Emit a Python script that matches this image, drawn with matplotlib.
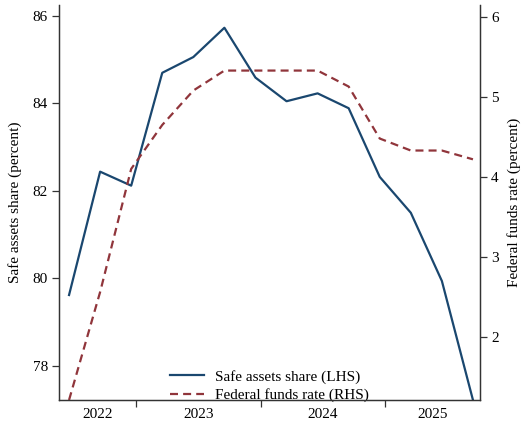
import matplotlib
matplotlib.use("Agg")
import matplotlib.pyplot as plt
import numpy as np

plt.rcParams['font.family'] = ['Liberation Serif', 'DejaVu Serif']

# Quarter-end months (June 2022 .. Sept 2025)
dates = ["2022-06", "2022-09", "2022-12", "2023-03", "2023-06", "2023-09", "2023-12",
         "2024-03", "2024-06", "2024-09", "2024-12", "2025-03", "2025-06", "2025-09"]
safe_share = [79.62, 82.44, 82.12, 84.70, 85.06, 85.73, 84.59,
              84.05, 84.23, 83.89, 82.32, 81.50, 79.94, 77.22]
fed_funds = [1.21, 2.56, 4.10, 4.65, 5.08, 5.33, 5.33,
             5.33, 5.33, 5.13, 4.48, 4.33, 4.33, 4.22]
year_labels = ["2022", "2023", "2024", "2025"]

# months since Jan 2022, mid-month
x = np.array([(int(d[:4]) - 2022) * 12 + int(d[5:]) - 0.5 for d in dates])

blue = "#1a476f"
red = "#90353b"

fig = plt.figure(figsize=(5.25, 4.26), dpi=100)
ax = fig.add_axes([59/525, 1 - 400/426, (480-59)/525, (400-5)/426])
ax2 = ax.twinx()

l1, = ax.plot(x, safe_share, color=blue, lw=1.6, label="Safe assets share (LHS)")
l2, = ax2.plot(x, fed_funds, color=red, lw=1.6, ls=(0, (3.6, 2.3)), label="Federal funds rate (RHS)")

xmin, xmax = 4.53, 45.18
ax.set_xlim(xmin, xmax)
ax.set_ylim(77.22, 86.25)
ax2.set_ylim(1.21, 6.15)

ax.set_yticks([78, 80, 82, 84, 86])
ax2.set_yticks([2, 3, 4, 5, 6])

# year boundaries as major ticks, labels centered in visible part of each year
ax.set_xticks([12, 24, 36])
ax.set_xticklabels([])
bounds = [xmin, 12, 24, 36, xmax]
centers = [(bounds[i] + bounds[i+1]) / 2 for i in range(4)]
ax.set_xticks(centers, minor=True)
ax.set_xticklabels(year_labels, minor=True)
ax.tick_params(axis='x', which='minor', length=0, pad=6, labelsize=11)
ax.tick_params(axis='x', which='major', length=5, width=0.9, color="#333333")

ax.tick_params(axis='y', length=5, width=0.9, labelsize=11, color="#333333", pad=3)
ax2.tick_params(axis='y', length=5, width=0.9, labelsize=11, color="#333333", pad=3)

for a in (ax, ax2):
    a.spines['top'].set_visible(False)
    for s in ('left', 'right', 'bottom'):
        a.spines[s].set_color("#333333")
        a.spines[s].set_linewidth(0.9)

ax.set_ylabel("Safe assets share (percent)", fontsize=11, labelpad=8)
ax2.set_ylabel("Federal funds rate (percent)", fontsize=11, labelpad=6, rotation=90)

leg = ax.legend(handles=[l1, l2], loc="lower center", bbox_to_anchor=(0.5, -0.04),
                frameon=False, fontsize=11, handlelength=2.2, handletextpad=0.7,
                labelspacing=0.3)

fig.savefig("out.png", dpi=100)
